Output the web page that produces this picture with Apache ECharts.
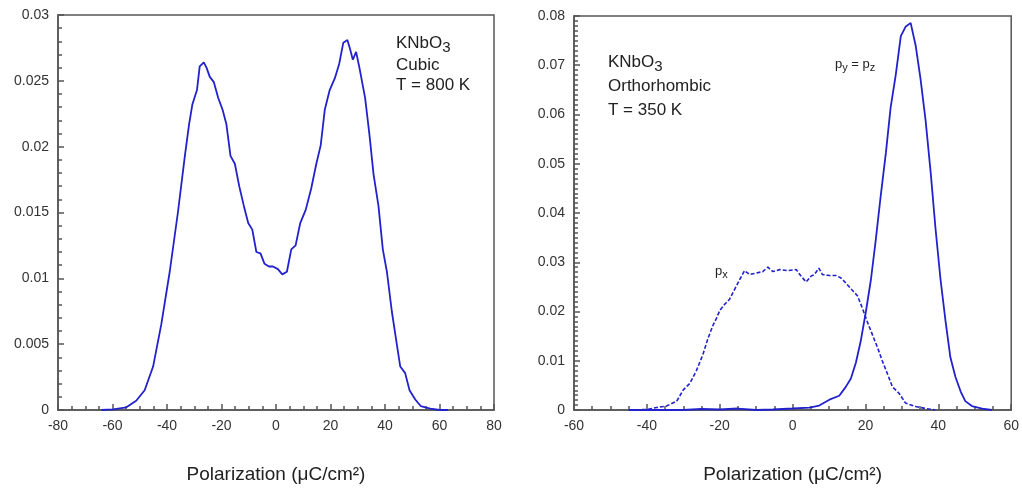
<!DOCTYPE html>
<html>
<head>
<meta charset="utf-8">
<script src="https://cdn.jsdelivr.net/npm/echarts@6/dist/echarts.min.js"></script>
<style>
html,body{margin:0;padding:0;background:#fff;}
#chart{width:1022px;height:489px;}
</style>
</head>
<body>
<div id="chart"></div>
<script>
// Left panel: cubic, T = 800 K
const cubicX = [-64.1,-59.8,-54.9,-51.3,-48.2,-45.1,-42.1,-39.0,-36.0,-33.5,-31.9,-30.7,-29.0,-28.0,-26.5,-25.5,-24.3,-22.8,-21.2,-19.6,-18.2,-16.7,-15.1,-13.5,-11.8,-10.2,-8.7,-7.2,-5.7,-4.2,-2.6,-1.1,0.7,2.3,4.0,5.6,7.2,8.9,10.9,12.9,14.8,16.4,17.9,19.7,21.6,23.2,24.7,26.2,27.2,28.2,29.4,30.8,32.7,34.3,35.8,37.6,39.2,40.7,42.5,44.1,45.6,47.4,49.0,51.1,53.1,56.6,60.1,63.1];
const cubicY = [0,0.00005,0.0002,0.0007,0.0015,0.0033,0.0065,0.0105,0.0150,0.0192,0.0217,0.0232,0.0243,0.0261,0.0264,0.0260,0.0253,0.0249,0.0237,0.0228,0.0217,0.0193,0.0187,0.0170,0.0155,0.0142,0.0137,0.0120,0.0119,0.0111,0.0109,0.0109,0.0107,0.0103,0.0105,0.0122,0.0125,0.0142,0.0152,0.0168,0.0187,0.0201,0.0228,0.0243,0.0252,0.0263,0.0279,0.0281,0.0274,0.0266,0.0272,0.0258,0.0237,0.0209,0.0179,0.0155,0.0122,0.0105,0.0075,0.0053,0.0033,0.0028,0.0015,0.0008,0.0003,0.0001,0,0];

// Right panel: orthorhombic, T = 350 K, p_y = p_z (solid)
const pyzX = [-45,-30,-25,-20,-15,-10,-5.4,0,4.6,7.3,10.1,12.8,14.6,16.0,17.4,18.7,20.1,21.5,22.8,24.2,25.6,26.9,28.3,29.7,31.0,32.4,33.8,35.1,36.5,37.9,39.2,40.6,42.0,43.3,44.7,46.1,47.4,49.2,52.0,54.7];
const pyzY = [0,0,0.0002,0.0001,0.0003,0,0.0001,0.0003,0.0005,0.0009,0.0021,0.0029,0.0047,0.0064,0.0097,0.0140,0.0199,0.0265,0.0344,0.0436,0.0522,0.0614,0.0680,0.0759,0.0778,0.0786,0.0739,0.0673,0.0588,0.0482,0.0370,0.0265,0.0179,0.0107,0.0067,0.0038,0.0018,0.0008,0.0003,0];

// Right panel: p_x (dashed)
const pxX = [-44.6,-40.0,-37.3,-34.6,-31.8,-30.0,-28.2,-26.4,-24.6,-23.2,-21.8,-20.9,-20.0,-18.6,-17.3,-15.9,-14.5,-13.2,-11.8,-10.0,-8.2,-6.8,-5.4,-3.6,-1.3,1.0,2.3,3.7,5.1,6.0,7.2,8.2,10.1,11.9,13.3,14.6,16.4,17.8,19.2,20.5,21.9,23.3,24.6,26.0,27.4,29.2,31.0,33.8,36.5,39.2];
const pxY = [0,0.0001,0.0005,0.0008,0.0018,0.0041,0.0054,0.0080,0.0113,0.0146,0.0173,0.0186,0.0202,0.0215,0.0225,0.0245,0.0265,0.0283,0.0275,0.0278,0.0281,0.0290,0.0281,0.0285,0.0283,0.0285,0.0272,0.0260,0.0272,0.0275,0.0288,0.0275,0.0273,0.0273,0.0268,0.0258,0.0243,0.0232,0.0206,0.0179,0.0153,0.0127,0.0100,0.0074,0.0047,0.0034,0.0014,0.0007,0.0003,0];

const leftXTicks = {min:-80, max:80, interval:20};
const rightXTicks = {min:-60, max:60, interval:20};
const leftYTicks = {min:0, max:0.03, interval:0.005};
const rightYTicks = {min:0, max:0.08, interval:0.01};

const axisName = 'Polarization (μC/cm²)';

function zip(xs, ys){ return xs.map((x,i)=>[x, ys[i]]); }

const FONT = '"Liberation Sans", Arial, sans-serif';
const LINE = '#2222cc';
const AX = '#555';
const TXT = '#222';

function xAxis(idx, t){
  return {
    type:'value', gridIndex:idx, min:t.min, max:t.max, interval:t.interval,
    name: axisName, nameLocation:'middle', nameGap:55,
    nameTextStyle:{fontFamily:FONT, fontSize:19, color:TXT},
    axisLine:{onZero:false, lineStyle:{color:AX, width:1.5}},
    axisTick:{inside:true, length:6, lineStyle:{color:AX, width:1.5}},
    minorTick:{show:true, splitNumber:4, length:4, lineStyle:{color:AX, width:1.5}},
    axisLabel:{fontFamily:FONT, fontSize:14, color:'#333', margin:9, showMinLabel:true, showMaxLabel:true},
    splitLine:{show:false}
  };
}
function yAxis(idx, t, minorSplit){
  return {
    type:'value', gridIndex:idx, min:t.min, max:t.max, interval:t.interval,
    axisLine:{show:true, onZero:false, lineStyle:{color:AX, width:1.5}},
    axisTick:{show:true, inside:true, length:6, lineStyle:{color:AX, width:1.5}},
    minorTick:{show:true, splitNumber:minorSplit, length:4, lineStyle:{color:AX, width:1.5}},
    axisLabel:{fontFamily:FONT, fontSize:14, color:'#333', margin:9, showMinLabel:true, showMaxLabel:true},
    splitLine:{show:false}
  };
}

function subRich(size){
  return {
    m:{fontSize:size, fontFamily:FONT, fill:TXT, lineHeight:size},
    s:{fontSize:size-2, fontFamily:FONT, fill:TXT, lineHeight:size-4, padding:[Math.round(size*0.45),0,0,0]}
  };
}

const chart = echarts.init(document.getElementById('chart'), null, {renderer:'canvas'});
chart.setOption({
  backgroundColor:'#fff',
  animation:false,
  grid:[
    {left:58, top:15, width:436, height:402, show:true, borderColor:AX, borderWidth:1.5, backgroundColor:'transparent'},
    {left:574, top:16, width:439, height:405, show:true, borderColor:AX, borderWidth:1.5, backgroundColor:'transparent'}
  ],
  xAxis:[xAxis(0,leftXTicks), xAxis(1,rightXTicks)],
  yAxis:[yAxis(0,leftYTicks,5), yAxis(1,rightYTicks,10)],
  series:[
    {type:'line', xAxisIndex:0, yAxisIndex:0, data:zip(cubicX,cubicY), showSymbol:false, lineStyle:{color:LINE, width:1.8}, z:3},
    {type:'line', xAxisIndex:1, yAxisIndex:1, data:zip(pyzX,pyzY), showSymbol:false, lineStyle:{color:LINE, width:1.8}, z:3},
    {type:'line', xAxisIndex:1, yAxisIndex:1, data:zip(pxX,pxY), showSymbol:false, lineStyle:{color:LINE, width:1.6, type:[4,2]}, z:3}
  ],
  graphic:[
    {type:'text', left:396, top:32, style:{text:'{m|KNbO}{s|3}', rich:subRich(17)}},
    {type:'text', left:396, top:57, style:{text:'Cubic', font:'17px '+FONT, fill:TXT}},
    {type:'text', left:396, top:77, style:{text:'T = 800 K', font:'17px '+FONT, fill:TXT}},

    {type:'text', left:608, top:51, style:{text:'{m|KNbO}{s|3}', rich:subRich(17)}},
    {type:'text', left:608, top:78, style:{text:'Orthorhombic', font:'17px '+FONT, fill:TXT}},
    {type:'text', left:608, top:102, style:{text:'T = 350 K', font:'17px '+FONT, fill:TXT}},

    {type:'text', left:835, top:56, style:{text:'{m|p}{s|y}{m| = p}{s|z}', rich:subRich(13)}},
    {type:'text', left:715, top:263, style:{text:'{m|p}{s|x}', rich:subRich(13)}}
  ]
});
</script>
</body>
</html>
